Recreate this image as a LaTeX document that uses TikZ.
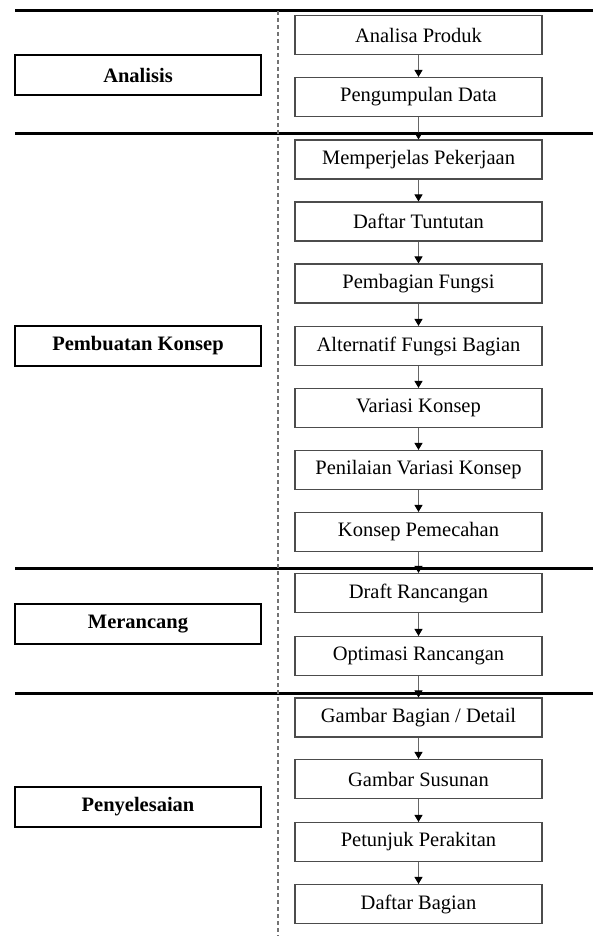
\documentclass[tikz,border=0pt]{standalone}
\usepackage{fontspec}
\setmainfont{Liberation Serif}
\usetikzlibrary{arrows.meta}

\begin{document}
\begin{tikzpicture}[
    x=1pt, y=-1pt,
    phase/.style={
      rectangle,
      draw=black,
      line width=2.4pt,
      minimum width=246pt,
      minimum height=40pt,
      font=\fontsize{20.5}{24}\selectfont\bfseries
    },
    stepbox/.style={
      rectangle,
      draw=black!70,
      line width=1.1pt,
      minimum width=247pt,
      minimum height=39pt,
      font=\fontsize{20.5}{24}\selectfont
    },
    flow/.style={
      draw=black!60,
      line width=0.9pt,
      -{Triangle[width=8pt,length=7pt,fill=black,color=black]}
    },
    divider/.style={line width=3pt, black}
]
\useasboundingbox (0,0) rectangle (593,936);

% section dividers
\draw[divider] (15,11) -- (593,11);
\draw[divider] (15,134) -- (593,134);
\draw[divider] (15,568) -- (593,568);
\draw[divider] (15,693) -- (593,693);
\draw[black!55, line width=1.2pt, dash pattern=on 4pt off 3pt] (278,11) -- (278,936);

% phases
\node[phase] (ana) at (138,75) {Analisis};
\node[phase] (kon) at (138,346) {Pembuatan Konsep};
\node[phase] (ran) at (138,624) {Merancang};
\node[phase] (sel) at (138,807) {Penyelesaian};

% steps
\node[stepbox] (s1) at (418.5,35) {Analisa Produk};
\node[stepbox] (s2) at (418.5,97) {Pengumpulan Data};
\node[stepbox] (s3) at (418.5,159.5) {Memperjelas Pekerjaan};
\node[stepbox] (s4) at (418.5,221.5) {Daftar Tuntutan};
\node[stepbox] (s5) at (418.5,283.5) {Pembagian Fungsi};
\node[stepbox] (s6) at (418.5,346) {Alternatif Fungsi Bagian};
\node[stepbox] (s7) at (418.5,408) {Variasi Konsep};
\node[stepbox] (s8) at (418.5,470) {Penilaian Variasi Konsep};
\node[stepbox] (s9) at (418.5,532) {Konsep Pemecahan};
\node[stepbox] (s10) at (418.5,593) {Draft Rancangan};
\node[stepbox] (s11) at (418.5,656) {Optimasi Rancangan};
\node[stepbox] (s12) at (418.5,717.5) {Gambar Bagian / Detail};
\node[stepbox] (s13) at (418.5,779) {Gambar Susunan};
\node[stepbox] (s14) at (418.5,842) {Petunjuk Perakitan};
\node[stepbox] (s15) at (418.5,904) {Daftar Bagian};

\draw[flow] (s1) -- (s2);
\draw[flow] (s2) -- (s3);
\draw[flow] (s3) -- (s4);
\draw[flow] (s4) -- (s5);
\draw[flow] (s5) -- (s6);
\draw[flow] (s6) -- (s7);
\draw[flow] (s7) -- (s8);
\draw[flow] (s8) -- (s9);
\draw[flow] (s9) -- (s10);
\draw[flow] (s10) -- (s11);
\draw[flow] (s11) -- (s12);
\draw[flow] (s12) -- (s13);
\draw[flow] (s13) -- (s14);
\draw[flow] (s14) -- (s15);

\end{tikzpicture}
\end{document}
